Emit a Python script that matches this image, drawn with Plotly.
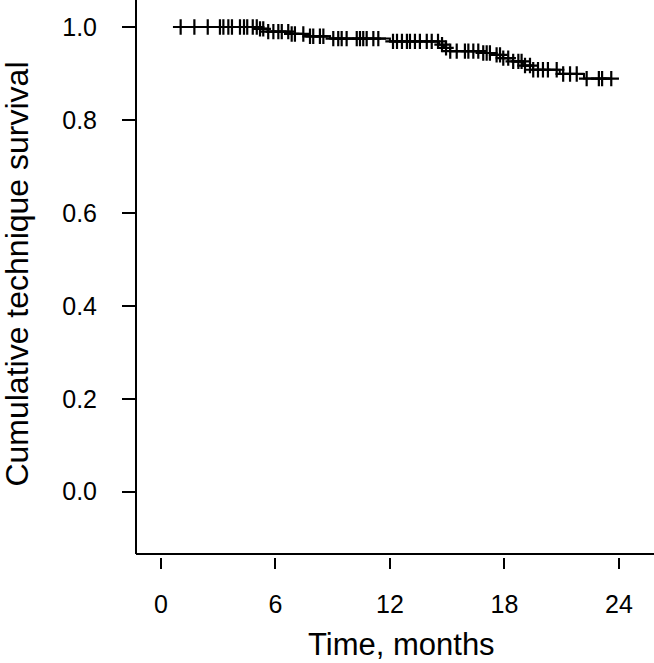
import numpy as np
import plotly.graph_objects as go

# Kaplan-Meier curve
start_time = 1.03
event_times = [5.03, 5.6, 6.76, 7.55, 8.86, 12.0, 14.57, 14.83, 15.15, 16.72,
               17.4, 17.92, 18.45, 18.97, 19.5, 20.9, 22.17]
event_surv = [0.996, 0.990, 0.985, 0.980, 0.975, 0.969, 0.962, 0.955, 0.948, 0.944,
              0.940, 0.933, 0.926, 0.917, 0.908, 0.899, 0.889]
censor_times = [1.03, 1.75, 2.45, 3.09, 3.27, 3.53, 3.72, 4.14, 4.35, 4.52, 4.81, 5.02,
                5.19, 5.36, 5.62, 5.89, 6.15, 6.33, 6.67, 6.85, 7.02, 7.46, 7.81, 7.98,
                8.33, 8.51, 9.03, 9.29, 9.47, 9.73, 10.26, 10.43, 10.60, 10.78, 11.13,
                11.39, 12.16, 12.37, 12.63, 12.89, 13.05, 13.31, 13.57, 13.93, 14.19,
                14.52, 14.73, 14.94, 15.16, 15.50, 15.93, 16.11, 16.37, 16.63, 16.89,
                17.07, 17.24, 17.59, 17.77, 17.94, 18.20, 18.46, 18.73, 18.90, 19.08,
                19.34, 19.51, 19.76, 20.02, 20.28, 20.74, 21.08, 21.44, 21.79, 22.31,
                22.95, 23.12, 23.60]
x_ticks = [0, 6, 12, 18, 24]
y_ticks = [0.0, 0.2, 0.4, 0.6, 0.8, 1.0]
y_tick_labels = ["0.0", "0.2", "0.4", "0.6", "0.8", "1.0"]

# step function
ev_t = np.array(event_times)
ev_s = np.array(event_surv)
def surv_at(t):
    idx = np.searchsorted(ev_t, t, side="right") - 1
    return np.where(idx < 0, 1.0, ev_s[np.clip(idx, 0, None)])

line_x = [start_time] + event_times + [censor_times[-1]]
line_y = [1.0] + event_surv + [float(surv_at(censor_times[-1]))]
cens_y = surv_at(np.array(censor_times))

fig = go.Figure()
fig.add_trace(go.Scatter(x=line_x, y=line_y, mode="lines", line_shape="hv",
                         line=dict(color="black", width=2), hoverinfo="skip",
                         showlegend=False))
fig.add_trace(go.Scatter(x=censor_times, y=cens_y, mode="markers",
                         marker=dict(symbol="cross-thin", size=11,
                                     line=dict(color="black", width=2.2)),
                         showlegend=False))

font = "Liberation Sans, Arial, Helvetica, sans-serif"
gap = 3 / 557
fig.update_layout(
    width=654, height=663,
    margin=dict(l=136, r=0, t=0, b=106, pad=0, autoexpand=False),
    paper_bgcolor="white", plot_bgcolor="white",
    font=dict(family=font, color="black"),
    xaxis=dict(range=[-1.31, 25.84], tickvals=x_ticks, ticks="outside", ticklen=11,
               tickwidth=2, tickcolor="black", showgrid=False, zeroline=False,
               showline=False, tickfont=dict(size=25, color="black"),
               ticklabelstandoff=14, automargin=False),
    yaxis=dict(range=[-0.1405, 1.0581], tickvals=y_ticks, ticktext=y_tick_labels,
               ticks="outside", ticklen=13, tickwidth=2, tickcolor="black",
               showgrid=False, zeroline=False, showline=False,
               tickfont=dict(size=25, color="black"), ticklabelstandoff=20,
               automargin=False),
    shapes=[
        dict(type="line", xref="paper", yref="paper", x0=0, x1=0, y0=gap, y1=1,
             line=dict(color="black", width=2)),
        dict(type="line", xref="paper", yref="paper", x0=0, x1=1, y0=gap, y1=gap,
             line=dict(color="black", width=2)),
    ],
    annotations=[
        dict(text="Time, months", xref="paper", yref="paper", x=0.5125, y=0,
             xanchor="center", yanchor="middle", yshift=-87.5, showarrow=False,
             font=dict(size=31, color="black", family=font)),
        dict(text="Cumulative technique survival", xref="paper", yref="paper",
             x=0, y=0.507, xshift=-119, xanchor="center", yanchor="middle",
             textangle=-90, showarrow=False, borderpad=0,
             font=dict(size=32, color="black", family=font)),
    ],
)
fig.write_html("out.html", config={"displayModeBar": False},
               post_script="document.body.style.margin='0px';"
                           "document.body.style.overflow='hidden';")
